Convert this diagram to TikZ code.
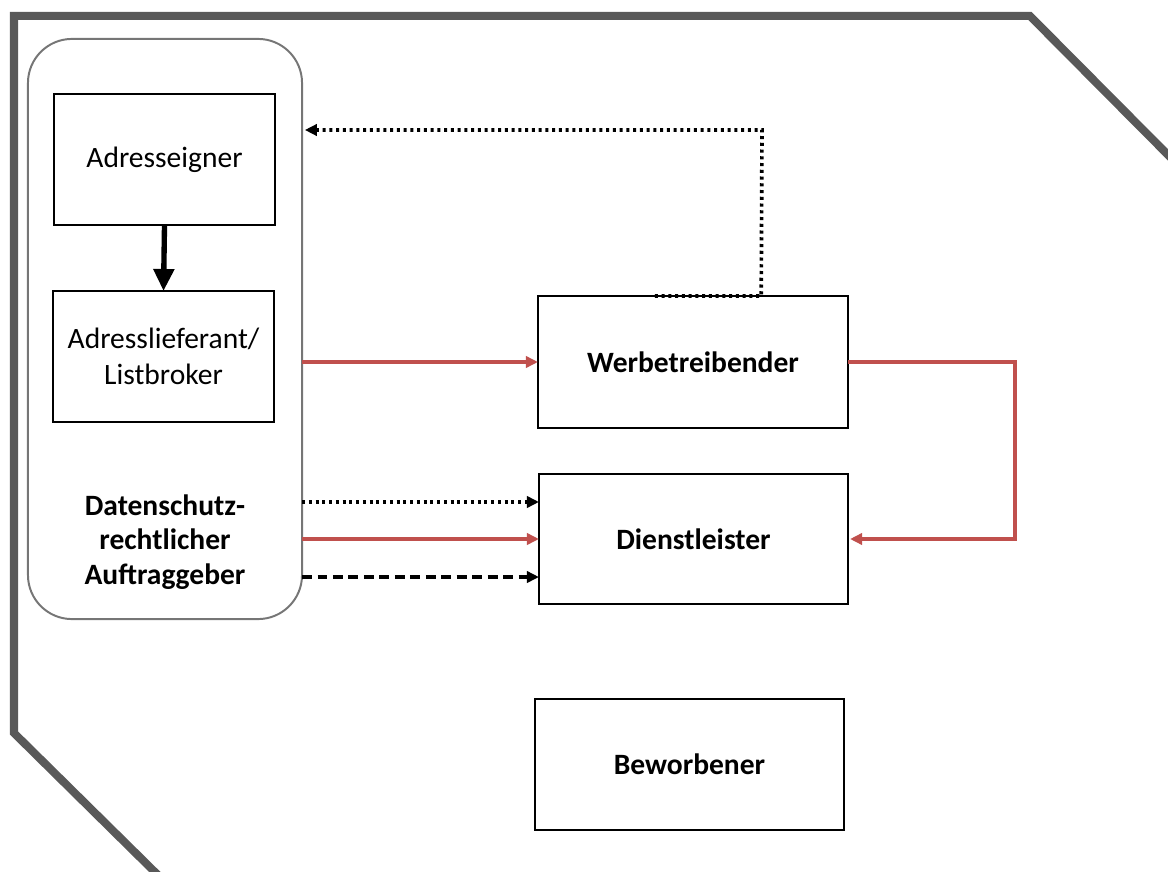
\documentclass[tikz,border=0pt]{standalone}
\usepackage{fontspec}
\setmainfont{Carlito}
\usetikzlibrary{arrows.meta, positioning, calc}
\definecolor{rahmengrau}{HTML}{595959}
\definecolor{randgrau}{HTML}{767676}
\definecolor{linienrot}{HTML}{C0504D}

\tikzset{
  kasten/.style={draw, line width=1.8pt, outer sep=0pt, align=center,
    font=\fontsize{21}{26}\selectfont},
  pfeil/.style={-{Triangle[length=0.3cm, width=0.28cm]}},
  punktiert/.style={pfeil, line width=2.6pt, dash pattern=on 2.2pt off 2.6pt},
  gestrichelt/.style={pfeil, line width=2.4pt, dash pattern=on 7pt off 4pt},
  rot/.style={pfeil, linienrot, line width=2.2pt}
}

\begin{document}
\begin{tikzpicture}[x=0.025cm, y=-0.025cm]
    \useasboundingbox (0,0) rectangle (1168,872);
    \clip (0,0) rectangle (1168,872);

    % Outer frame
    \draw[rahmengrau, line width=0.2cm, line join=miter] (165,882) -- (14,733) -- (14,16) -- (1030,16) -- (1178,165);

    % Client group
    \node[draw=randgrau, line width=1.4pt, rounded corners=1.1cm, outer sep=0pt,
      minimum width=6.85cm, minimum height=14.5cm] (auftraggeber) at (165,329) {};
    \node[font=\fontsize{21}{24.5}\selectfont\bfseries, align=center] (auftraggebertext) at (165,542)
      {Datenschutz-\\rechtlicher\\Auftraggeber};

    % Boxes
    \node[kasten, minimum width=5.525cm, minimum height=3.275cm] (eigner) at (164.5,159.5) {Adresseigner};
    \node[kasten, minimum width=5.525cm, minimum height=3.275cm] (lieferant) at (163.5,356.5) {Adresslieferant/\\Listbroker};
    \node[kasten, minimum width=7.75cm, minimum height=3.3cm, font=\fontsize{21}{26}\selectfont\bfseries] (werb) at (693,362) {Werbetreibender};
    \node[kasten, minimum width=7.725cm, minimum height=3.25cm, font=\fontsize{21}{26}\selectfont\bfseries] (dienst) at (693.5,539) {Dienstleister};
    \node[kasten, minimum width=7.725cm, minimum height=3.275cm, font=\fontsize{21}{26}\selectfont\bfseries] (beworb) at (689.5,764.5) {Beworbener};

    % Thick arrow
    \draw[line width=3.8pt, -{Triangle[length=0.55cm, width=0.5cm]}] (eigner.south) -- (lieferant.north);

    % Dotted return to the client
    \coordinate (start) at ($(werb.north west)!0.377!(werb.north east)$);
    \coordinate (knick) at ($(werb.north west)!0.72!(werb.north east)$);
    \coordinate (oben) at (762,130);
    \draw[punktiert] (start) -- (knick) -- (oben) -- ([xshift=0.07cm]auftraggeber.east |- oben);

    % Red flows
    \coordinate (rechts) at (1015,0);
    \draw[rot] (auftraggeber.east |- werb.west) -- (werb.west);
    \draw[rot] (werb.east) -- (werb.east -| rechts) -- (dienst.east -| rechts) -- ([xshift=0.05cm]dienst.east);

    % Client to service provider
    \draw[punktiert] ([yshift=0.925cm]auftraggeber.east |- dienst.west) -- ([yshift=0.925cm]dienst.west);
    \draw[rot] (auftraggeber.east |- dienst.west) -- (dienst.west);
    \draw[gestrichelt] ([yshift=-0.95cm]auftraggeber.east |- dienst.west) -- ([yshift=-0.95cm]dienst.west);

  \end{tikzpicture}
\end{document}
